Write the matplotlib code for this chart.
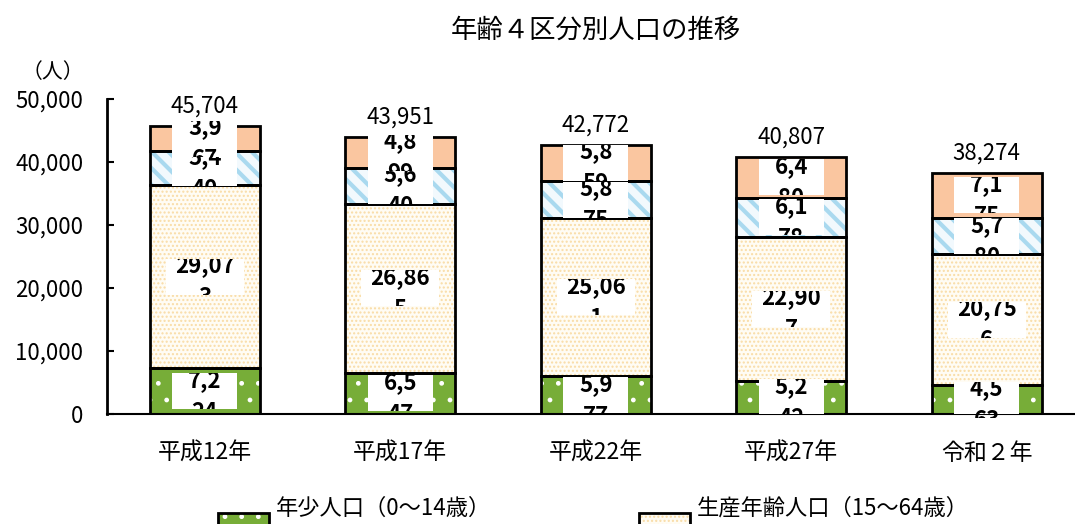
import numpy as np
import matplotlib
matplotlib.use('Agg')
import matplotlib.pyplot as plt
from matplotlib.patches import Rectangle
from matplotlib.legend_handler import HandlerPatch

plt.rcParams['font.family'] = ['Noto Sans CJK JP', 'DejaVu Sans']

# data (labels are clipped in the source, values estimated)
years = ['平成12年', '平成17年', '平成22年', '平成27年', '令和２年']
young = [7224, 6547, 5977, 5242, 4563]
working = [29073, 26865, 25061, 22907, 20756]
early_old = [5440, 5640, 5875, 6178, 5780]
late_old = [3967, 4899, 5859, 6480, 7175]
series_names = ['年少人口（0～14歳）', '生産年齢人口（15～64歳）',
                '前期高齢者人口（65～74歳）', '後期高齢者人口（75歳以上）']

# face, hatch, hatch colour, hatch width, label box width (px), chars per line
styles = [
    ('#77AD38', '.', 'white', 1.0, 65, 3),
    ('#FFFCF4', '....', '#F9DCA6', 1.0, 78, 5),
    ('#F2F9FD', '\\\\', '#A9D9EF', 3.0, 65, 3),
    ('#FAC6A0', None, 'none', 1.0, 65, 3),
]

W, H = 1075, 524
fig = plt.figure(figsize=(W / 100, H / 100), dpi=100)
ax = fig.add_axes([107 / W, 110 / H, 968 / W, 315 / H])

px_x = 195.5          # pixels per category
px_y = 315 / 50000    # pixels per person
ax.set_xlim(-0.5, -0.5 + 968 / px_x)
ax.set_ylim(0, 50000)

x = np.arange(len(years))
width = 110 / px_x
bottom = np.zeros(len(years))
handles = []

for k, (values, style) in enumerate(zip([young, working, early_old, late_old], styles)):
    face, hatch, hcol, hlw, box_px, nch = style
    base = ax.bar(x, values, width, bottom, color=face, linewidth=0, zorder=2)
    with plt.rc_context({'hatch.linewidth': hlw}):
        over = ax.bar(x, values, width, bottom, color='none', edgecolor=hcol,
                      linewidth=0, hatch=hatch, zorder=2.1)
    edge = ax.bar(x, values, width, bottom, color='none', edgecolor='black',
                  linewidth=2, zorder=2.2)
    handles.append((base[0], over[0], edge[0]))

    # white label boxes, text wrapped and clipped like the original
    bw = box_px / px_x
    bh = 36 / px_y
    for xi, b, v in zip(x, bottom, values):
        yc = b + v / 2
        rect = Rectangle((xi - bw / 2, yc - bh / 2), bw, bh, facecolor='white',
                         edgecolor='none', zorder=4 + k)
        ax.add_patch(rect)
        s = f'{v:,}'
        t = ax.text(xi, yc - 5 / px_y, s[:nch] + '\n' + s[nch:], ha='center', va='center',
                    fontsize=16, fontweight='bold', linespacing=1.5,
                    zorder=4.5 + k, clip_on=True)
        t.set_clip_path(rect)
    bottom += np.array(values)

for xi, tot in zip(x, bottom):
    ax.annotate(f'{int(tot):,}', (xi, tot), xytext=(0, 6), textcoords='offset points',
                ha='center', va='bottom', fontsize=16)

ax.set_xticks(x)
ax.set_xticklabels(years)
ax.set_yticks(np.arange(0, 50001, 10000))
ax.yaxis.set_major_formatter(matplotlib.ticker.FuncFormatter(lambda v, p: f'{int(v):,}'))
ax.tick_params(axis='y', direction='in', length=5, width=1.5, pad=17, labelsize=16)
ax.tick_params(axis='x', length=0, pad=20, labelsize=16.5)
for side in ['top', 'right']:
    ax.spines[side].set_visible(False)
ax.spines['left'].set_linewidth(2)
ax.spines['bottom'].set_linewidth(1.5)

fig.text(53 / W, 1 - 72 / H, '（人）', ha='center', va='center', fontsize=15)
fig.text(596 / W, 1 - 30 / H, '年齢４区分別人口の推移', ha='center', va='center', fontsize=19)


# legend keys sit a little below the text line in the source
def low_patch(legend, orig_handle, xdescent, ydescent, width, height, fontsize):
    return Rectangle((-xdescent, -ydescent - 11), width, height)


order = [0, 2, 1, 3]
fig.legend([handles[i] for i in order], [series_names[i] for i in order],
           ncol=2, loc='upper left', bbox_to_anchor=(218 / W, 1 - 497 / H),
           frameon=False, fontsize=16, handlelength=2.3, handleheight=1.0,
           handletextpad=0.3, columnspacing=3.1, borderpad=0, borderaxespad=0,
           labelspacing=2.0,
           handler_map={Rectangle: HandlerPatch(patch_func=low_patch)})

fig.savefig('out.png', dpi=100)
